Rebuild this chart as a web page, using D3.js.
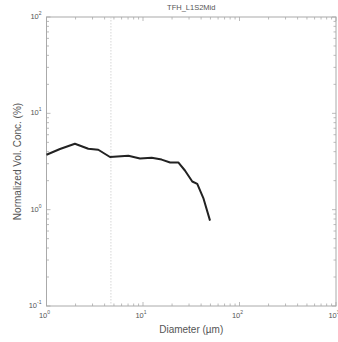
<!DOCTYPE html>
<html>
<head>
<meta charset="utf-8">
<script src="https://cdn.jsdelivr.net/npm/d3@7"></script>
<style>
  body { margin: 0; background: #fff; }
  text { font-family: "Liberation Sans", Arial, sans-serif; fill: #555; }
</style>
</head>
<body>
<div id="chart"></div>
<script>
// data
const diameter = [1.0, 1.38, 1.97, 2.71, 3.44, 4.55, 7.05, 9.3, 12.3, 15.6, 19.1, 23.2, 27.2, 32.4, 36.5, 42.2, 49.5];
const volConc  = [3.72, 4.26, 4.83, 4.29, 4.19, 3.52, 3.63, 3.40, 3.46, 3.31, 3.09, 3.09, 2.55, 1.96, 1.85, 1.32, 0.77];
const markerX = 4.65;
const xDomain = [1, 1000];
const yDomain = [0.1, 100];
const title = "TFH_L1S2Mid";
const xLabel = "Diameter (\u00b5m)";
const yLabel = "Normalized Vol. Conc. (%)";

const margin = { top: 17, right: 2, bottom: 36, left: 46.5 };
const width = 338, height = 342;
const w = width - margin.left - margin.right;
const h = height - margin.top - margin.bottom;

const svg = d3.select("#chart").append("svg")
    .attr("width", width).attr("height", height);
const g = svg.append("g")
    .attr("transform", `translate(${margin.left},${margin.top})`);

const x = d3.scaleLog().domain(xDomain).range([0, w]);
const y = d3.scaleLog().domain(yDomain).range([h, 0]);

const axisColor = "#aaa";

// minor/major tick values
function logTicks(dom) {
    const out = [];
    for (let e = Math.log10(dom[0]); e < Math.log10(dom[1]); e++) {
        for (let k = 1; k < 10; k++) out.push({ v: k * Math.pow(10, e), major: k === 1 });
    }
    out.push({ v: dom[1], major: true });
    return out;
}

// frame
g.append("rect").attr("width", w).attr("height", h)
    .attr("fill", "none").attr("stroke", axisColor).attr("stroke-width", 1);

// ticks on all sides, pointing inward
const xt = logTicks(xDomain), yt = logTicks(yDomain);
const tg = g.append("g").attr("stroke", axisColor).attr("stroke-width", 0.8);
xt.forEach(t => {
    const len = t.major ? 4 : 2.5;
    tg.append("line").attr("x1", x(t.v)).attr("x2", x(t.v)).attr("y1", h).attr("y2", h - len);
    tg.append("line").attr("x1", x(t.v)).attr("x2", x(t.v)).attr("y1", 0).attr("y2", len);
});
yt.forEach(t => {
    const len = t.major ? 4 : 2.5;
    tg.append("line").attr("y1", y(t.v)).attr("y2", y(t.v)).attr("x1", 0).attr("x2", len);
    tg.append("line").attr("y1", y(t.v)).attr("y2", y(t.v)).attr("x1", w).attr("x2", w - len);
});

// tick labels 10^n
function powLabel(sel, e) {
    sel.append("tspan").text("10");
    sel.append("tspan").attr("dy", -4).attr("font-size", 5).text(e);
}
xt.filter(t => t.major).forEach(t => {
    const e = Math.round(Math.log10(t.v));
    const txt = g.append("text").attr("x", x(t.v) - 2).attr("y", h + 12)
        .attr("font-size", 7.5).attr("text-anchor", "middle");
    powLabel(txt, e);
});
yt.filter(t => t.major).forEach(t => {
    const e = Math.round(Math.log10(t.v));
    const txt = g.append("text").attr("x", -5).attr("y", y(t.v) + 2)
        .attr("font-size", 7.5).attr("text-anchor", "end");
    powLabel(txt, e);
});

// dotted marker line
g.append("line")
    .attr("x1", x(markerX)).attr("x2", x(markerX))
    .attr("y1", 0).attr("y2", h)
    .attr("stroke", "#ccc").attr("stroke-width", 0.8)
    .attr("stroke-dasharray", "1.5,1.5");

// curve
const line = d3.line().x((d, i) => x(diameter[i])).y(d => y(d));
g.append("path").datum(volConc)
    .attr("d", line)
    .attr("fill", "none").attr("stroke", "#222").attr("stroke-width", 2)
    .attr("stroke-linejoin", "round");

// title and axis labels
svg.append("text").attr("x", margin.left + w / 2).attr("y", 10)
    .attr("text-anchor", "middle").attr("font-size", 7.5).text(title);
svg.append("text").attr("x", margin.left + w / 2).attr("y", margin.top + h + 27)
    .attr("text-anchor", "middle").attr("font-size", 10).text(xLabel);
svg.append("text")
    .attr("transform", `translate(21,${margin.top + h / 2}) rotate(-90)`)
    .attr("text-anchor", "middle").attr("font-size", 10).text(yLabel);
</script>
</body>
</html>
